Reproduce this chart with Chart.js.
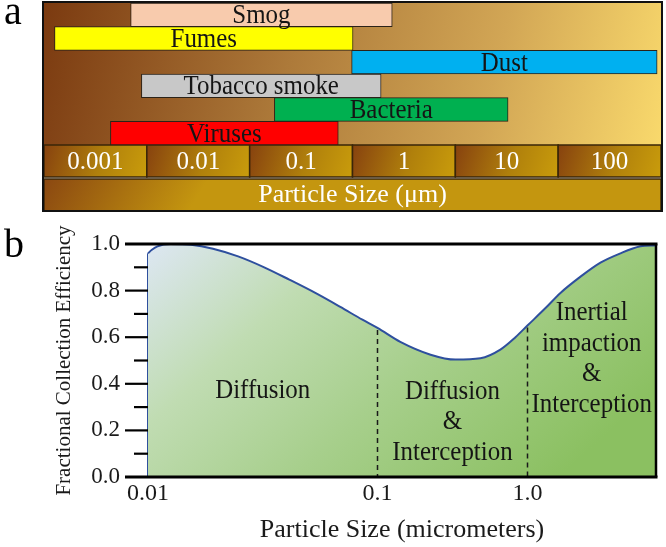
<!DOCTYPE html>
<html><head><meta charset="utf-8">
<script src="https://cdn.jsdelivr.net/npm/chart.js@4.4.1/dist/chart.umd.min.js"></script>
<style>
html,body{margin:0;padding:0;background:#fff;width:666px;height:547px;overflow:hidden;}
#wa{position:absolute;left:0;top:0;width:666px;height:215px;}
#wb{position:absolute;left:0;top:215px;width:666px;height:332px;}
.plab{position:absolute;font-family:"Liberation Serif",serif;font-size:40px;line-height:40px;color:#000;}
</style></head><body>
<div id="wa"><canvas id="ca" width="666" height="215"></canvas></div>
<div id="wb"><canvas id="cb" width="666" height="332"></canvas></div>
<div class="plab" style="left:4px;top:-9px;">a</div>
<div class="plab" style="left:4px;top:224px;">b</div>
<script>
// ---------- Panel a data ----------
const sizeTicks = [0.001, 0.01, 0.1, 1, 10, 100];
const sizeTickLabels = ['0.001', '0.01', '0.1', '1', '10', '100'];
const sourceNames = ['Smog', 'Fumes', 'Dust', 'Tobacco smoke', 'Bacteria', 'Viruses'];
const sizeFrom = [0.0022, 0.0004, 0.31, 0.0028, 0.055, 0.0014];
const sizeTo = [0.77, 0.32, 290, 0.6, 10.3, 0.23];

// ---------- Panel b data ----------
const particleSize = [0.01, 0.0104, 0.011, 0.0125, 0.0154, 0.0192, 0.0247, 0.0321, 0.0413, 0.0536, 0.0689, 0.086, 0.1, 0.142, 0.226, 0.331, 0.486, 0.66, 0.832, 1.0, 1.32, 1.66, 2.26, 3.07, 4.17, 5.67, 7.2];
const efficiency = [0.96, 0.975, 0.99, 1.0, 0.997, 0.98, 0.947, 0.90, 0.847, 0.79, 0.73, 0.675, 0.64, 0.58, 0.525, 0.504, 0.51, 0.547, 0.60, 0.65, 0.725, 0.79, 0.86, 0.92, 0.96, 0.99, 0.995];
const sizeAxisTicks = [0.01, 0.1, 1.0];
const sizeAxisLabels = ['0.01', '0.1', '1.0'];
const effTicks = [0, 0.2, 0.4, 0.6, 0.8, 1.0];
const effTickLabels = ['0.0', '0.2', '0.4', '0.6', '0.8', '1.0'];
const regionBounds = [[0.01, 0.1], [0.1, 1.0], [1.0, 7.2]];
const regionLabels = [['Diffusion'], ['Diffusion', '&', 'Interception'], ['Inertial', 'impaction', '&', 'Interception']];
const regionLabelLevel = [0.37, 0.236, 0.508];

const SERIF = '"Liberation Serif", "Times New Roman", serif';

function condensedText(ctx, text, x, y, sx) {
  ctx.save();
  ctx.translate(x, y);
  ctx.scale(sx, 1);
  ctx.fillText(text, 0, 0);
  ctx.restore();
}

// ---------- Panel a chart ----------
const barColors = ['#F8CBAD', '#FFFF00', '#00B0F0', '#C8C8C8', '#00B050', '#FF0000'];
const topDecor = {
  id: 'topDecor',
  beforeDraw(chart) {
    const ctx = chart.ctx, a = chart.chartArea, xs = chart.scales.x;
    ctx.save();
    let g = ctx.createLinearGradient(a.left, a.top, a.right, a.bottom);
    g.addColorStop(0, '#7b3a10');
    g.addColorStop(0.4, '#ad7a3a');
    g.addColorStop(0.72, '#d2a655');
    g.addColorStop(1, '#f9d96c');
    ctx.fillStyle = g;
    ctx.fillRect(a.left, a.top, a.right - a.left, a.bottom - a.top);
    const rowTop = a.bottom, rowBot = a.bottom + 32, boxBot = xs.bottom;
    sizeTicks.forEach(v => {
      const x0 = Math.max(a.left, xs.getPixelForValue(v / Math.sqrt(10)));
      const x1 = Math.min(a.right, xs.getPixelForValue(v * Math.sqrt(10)));
      const cg = ctx.createLinearGradient(x0, rowTop, x1, rowBot);
      cg.addColorStop(0, '#87420f');
      cg.addColorStop(0.55, '#b0800c');
      cg.addColorStop(1, '#c99c0c');
      ctx.fillStyle = cg;
      ctx.fillRect(x0, rowTop, x1 - x0, rowBot - rowTop);
      ctx.strokeStyle = '#3a2608';
      ctx.lineWidth = 1.5;
      ctx.strokeRect(x0, rowTop, x1 - x0, rowBot - rowTop);
    });
    const tg = ctx.createLinearGradient(a.left, rowBot, a.left + 120, boxBot + 40);
    tg.addColorStop(0, '#8a4711');
    tg.addColorStop(1, '#c4960f');
    ctx.fillStyle = tg;
    ctx.fillRect(a.left, rowBot + 2, a.right - a.left, boxBot - rowBot - 2);
    ctx.strokeStyle = '#3a2608';
    ctx.lineWidth = 1.5;
    ctx.strokeRect(a.left, rowBot + 2, a.right - a.left, boxBot - rowBot - 2);
    ctx.restore();
  },
  afterDatasetsDraw(chart) {
    const ctx = chart.ctx;
    const meta = chart.getDatasetMeta(0);
    ctx.save();
    ctx.font = '28px ' + SERIF;
    ctx.fillStyle = '#151515';
    ctx.textAlign = 'center';
    ctx.textBaseline = 'middle';
    meta.data.forEach((el, i) => {
      condensedText(ctx, sourceNames[i], (el.x + el.base) / 2, el.y + 1, 0.89);
    });
    ctx.restore();
  },
  afterDraw(chart) {
    const ctx = chart.ctx, a = chart.chartArea, xs = chart.scales.x;
    ctx.save();
    ctx.strokeStyle = '#111';
    ctx.lineWidth = 2;
    ctx.strokeRect(a.left - 1, a.top - 1, a.right - a.left + 2, xs.bottom - a.top + 1);
    ctx.restore();
  }
};

new Chart(document.getElementById('ca'), {
  type: 'bar',
  data: {
    labels: sourceNames,
    datasets: [{
      data: sourceNames.map((n, i) => [sizeFrom[i], sizeTo[i]]),
      backgroundColor: barColors,
      borderColor: '#2b2218',
      borderWidth: 1,
      borderSkipped: false,
      barPercentage: 1,
      categoryPercentage: 1
    }]
  },
  options: {
    indexAxis: 'y',
    responsive: false,
    animation: false,
    devicePixelRatio: 1,
    layout: { padding: { left: 44, right: 5, top: 3, bottom: 4 } },
    plugins: { legend: { display: false }, tooltip: { enabled: false } },
    scales: {
      y: { display: false },
      x: {
        type: 'logarithmic',
        bounds: 'data',
        min: Math.pow(10, -3.5),
        max: Math.pow(10, 2.5),
        afterBuildTicks: s => { s.ticks = sizeTicks.map(v => ({ value: v })); },
        afterFit: s => { s.height = 66; },
        grid: { display: false, drawTicks: false },
        border: { display: false },
        ticks: {
          autoSkip: false, maxRotation: 0,
          color: '#ffffff',
          font: { family: SERIF, size: 25 },
          padding: 2,
          callback: (v, i) => sizeTickLabels[i]
        },
        title: {
          display: true, text: 'Particle Size (\u03bcm)', color: '#ffffff',
          font: { family: SERIF, size: 26 },
          padding: { top: 0, bottom: 0 }
        }
      }
    }
  },
  plugins: [topDecor]
});

// ---------- Panel b: schematic log axis ----------
const decadeStarts = [0.01, 0.1, 1];
const decadeWeights = [1.53, 1, 1];
function axisUnits(v) {
  const lv = Math.log10(v);
  let u = 0;
  for (let i = 0; i < decadeStarts.length; i++) {
    const t = Math.min(Math.max(lv - Math.log10(decadeStarts[i]), 0), 1);
    u += t * decadeWeights[i];
  }
  return u;
}
class SchematicLogScale extends Chart.LinearScale {
  static id = 'schemlog';
  static defaults = {};
  buildTicks() { return sizeAxisTicks.map(v => ({ value: v })); }
  getPixelForValue(v) {
    const u0 = axisUnits(this.min), u1 = axisUnits(this.max);
    return this.getPixelForDecimal((axisUnits(v) - u0) / (u1 - u0));
  }
  getValueForPixel(p) { return this.min; }
}
Chart.register(SchematicLogScale);

const bottomDecor = {
  id: 'bottomDecor',
  afterDatasetsDraw(chart) {
    const ctx = chart.ctx, a = chart.chartArea, xs = chart.scales.x, ys = chart.scales.y;
    ctx.save();
    // dashed boundaries
    ctx.strokeStyle = '#1a1a1a';
    ctx.lineWidth = 1.5;
    ctx.setLineDash([5, 4]);
    [0.1, 1.0].forEach(b => {
      const idx = particleSize.indexOf(b);
      const x = Math.round(xs.getPixelForValue(b)) + 0.5;
      ctx.beginPath();
      ctx.moveTo(x, ys.getPixelForValue(efficiency[idx]) + 2);
      ctx.lineTo(x, a.bottom);
      ctx.stroke();
    });
    ctx.setLineDash([]);
    // region labels
    ctx.font = '28px ' + SERIF;
    ctx.fillStyle = '#151515';
    ctx.textAlign = 'center';
    ctx.textBaseline = 'middle';
    regionLabels.forEach((lines, r) => {
      const cx = (xs.getPixelForValue(regionBounds[r][0]) + xs.getPixelForValue(regionBounds[r][1])) / 2;
      const cy = ys.getPixelForValue(regionLabelLevel[r]);
      const lh = 30.5;
      lines.forEach((t, k) => {
        condensedText(ctx, t, cx, cy + (k - (lines.length - 1) / 2) * lh, 0.89);
      });
    });
    // frame
    ctx.strokeStyle = '#000';
    ctx.lineWidth = 3;
    const yTop = ys.getPixelForValue(1), yBot = ys.getPixelForValue(0);
    ctx.beginPath();
    ctx.moveTo(a.left - 23, yTop); ctx.lineTo(a.right + 1.5, yTop);
    ctx.moveTo(a.left - 23, yBot); ctx.lineTo(a.right + 1.5, yBot);
    ctx.stroke();
    ctx.lineWidth = 2.5;
    ctx.beginPath();
    ctx.moveTo(a.right, yTop); ctx.lineTo(a.right, yBot);
    ctx.stroke();
    // y tick marks
    ctx.lineWidth = 2.2;
    for (let k = 1; k < 10; k++) {
      const y = ys.getPixelForValue(k / 10);
      const len = (k % 2 === 0) ? 23 : 14;
      ctx.beginPath();
      ctx.moveTo(a.left - len, y); ctx.lineTo(a.left, y);
      ctx.stroke();
    }
    ctx.restore();
  }
};

new Chart(document.getElementById('cb'), {
  type: 'line',
  data: {
    datasets: [{
      data: particleSize.map((s, i) => ({ x: s, y: efficiency[i] })),
      borderColor: '#2e4f9e',
      borderWidth: 2,
      pointRadius: 0,
      cubicInterpolationMode: 'monotone',
      fill: 'origin',
      clip: false,
      backgroundColor: (c) => {
        const a = c.chart.chartArea;
        if (!a) return '#a9d18e';
        const g = c.chart.ctx.createLinearGradient(a.left, a.top, a.left + 300, a.bottom + 100);
        g.addColorStop(0, '#dde7f3');
        g.addColorStop(0.3, '#c0dcb2');
        g.addColorStop(0.6, '#a7cf8c');
        g.addColorStop(1, '#8bc061');
        return g;
      }
    }, {
      data: [{ x: particleSize[0], y: 0 }, { x: particleSize[0], y: efficiency[0] }],
      borderColor: '#2e4f9e',
      borderWidth: 2,
      pointRadius: 0,
      fill: false,
      clip: false,
      tension: 0
    }]
  },
  options: {
    responsive: false,
    animation: false,
    devicePixelRatio: 1,
    layout: { padding: { left: 0, right: 10, top: 29, bottom: 0 } },
    plugins: { legend: { display: false }, tooltip: { enabled: false } },
    scales: {
      x: {
        type: 'schemlog',
        min: 0.01,
        max: 7.2,
        afterFit: s => { s.height = 70; },
        grid: { display: false, drawTicks: false },
        border: { display: false },
        ticks: {
          autoSkip: false, maxRotation: 0,
          color: '#1a1a1a',
          font: { family: SERIF, size: 24 },
          padding: 2,
          callback: (v, i) => sizeAxisLabels[i]
        },
        title: {
          display: true, text: 'Particle Size (micrometers)', color: '#1a1a1a',
          font: { family: SERIF, size: 26 },
          padding: { top: 0, bottom: 1 }
        }
      },
      y: {
        min: 0, max: 1,
        afterBuildTicks: s => { s.ticks = effTicks.map(v => ({ value: v })); },
        afterFit: s => { s.width = 148; s.paddingTop = 0; s.paddingBottom = 0; },
        grid: { display: false, drawTicks: false },
        border: { display: false },
        ticks: {
          color: '#1a1a1a',
          font: { family: SERIF, size: 23 },
          padding: 28,
          callback: (v, i) => effTickLabels[i]
        },
        title: {
          display: true, text: 'Fractional Collection Efficiency', color: '#1a1a1a',
          font: { family: SERIF, size: 21 },
          padding: { top: 52, bottom: 0 }
        }
      }
    }
  },
  plugins: [bottomDecor]
});
</script>
</body></html>
